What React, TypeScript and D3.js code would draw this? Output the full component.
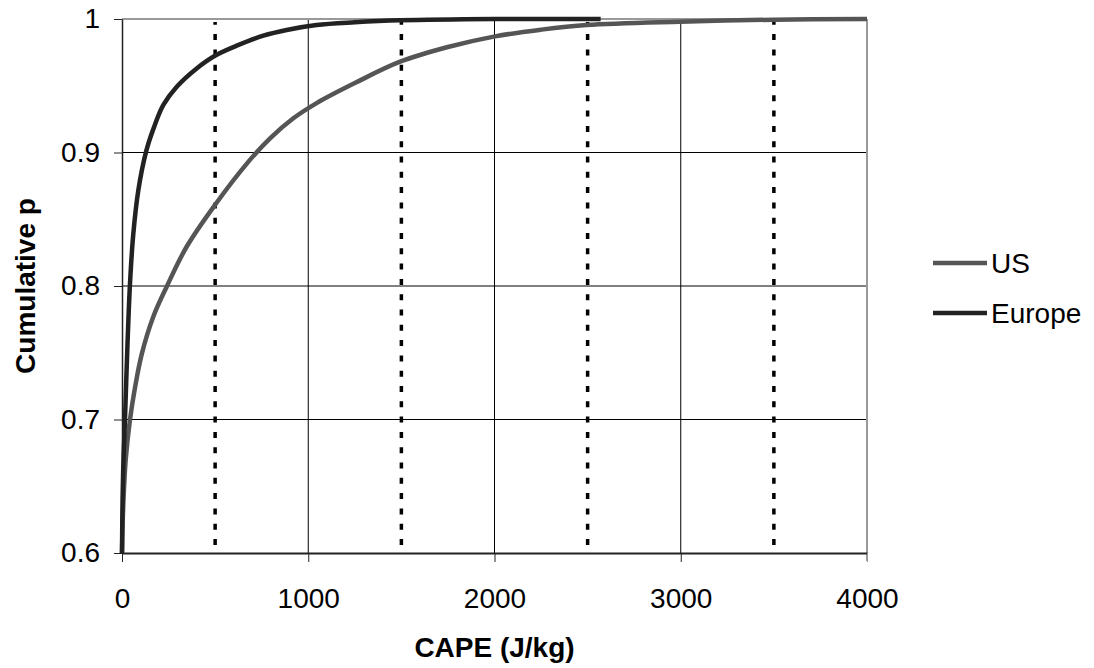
import { useEffect, useRef } from "react"
import * as d3 from "d3"

// CAPE values (J/kg) and cumulative probabilities
const usCape = [0, 3, 8, 20, 43, 70, 106, 168, 240, 347, 499, 678, 795, 920, 1045, 1250, 1493, 1750, 2003, 2250, 2495, 2996, 3500, 4000]
const usProb = [0.6, 0.62, 0.64, 0.67, 0.7, 0.724, 0.749, 0.777, 0.7995, 0.8294, 0.8607, 0.893, 0.9106, 0.9256, 0.937, 0.952, 0.968, 0.979, 0.987, 0.992, 0.9955, 0.998, 0.9995, 1]

const euCape = [0, 3, 8, 16, 29, 43, 61, 88, 130, 168, 222, 294, 401, 499, 616, 759, 884, 1045, 1250, 1493, 2000, 2570]
const euProb = [0.6, 0.64, 0.67, 0.7, 0.7545, 0.802, 0.8395, 0.872, 0.901, 0.9175, 0.9356, 0.9493, 0.963, 0.9725, 0.98, 0.9875, 0.9918, 0.9955, 0.9975, 0.999, 1, 1]

const xTicks = [0, 1000, 2000, 3000, 4000]
const yTicks = [0.6, 0.7, 0.8, 0.9, 1]
const dottedAt = [500, 1500, 2500, 3500]

const seriesNames = ["US", "Europe"]
const seriesColors = ["#555555", "#222222"]

const CapeChart = () => {
  const svgRef = useRef<SVGSVGElement>(null)

  useEffect(() => {
    if (!svgRef.current) return
    const svg = d3.select(svgRef.current)
    svg.selectAll("*").remove()

    const margin = { top: 19, left: 122, right: 227, bottom: 115 }
    const width = 1094
    const height = 668
    const innerWidth = width - margin.left - margin.right
    const innerHeight = height - margin.top - margin.bottom
    const font = "'Liberation Sans', Arial, sans-serif"

    const x = d3.scaleLinear().domain([0, 4000]).range([0, innerWidth])
    const y = d3.scaleLinear().domain([0.6, 1]).range([innerHeight, 0])

    const g = svg.append("g").attr("transform", `translate(${margin.left},${margin.top})`)

    // horizontal gridlines
    g.selectAll(".hgrid")
      .data(yTicks.filter((t) => t > 0.6 && t < 1))
      .enter()
      .append("line")
      .attr("x1", 0)
      .attr("x2", x(4000))
      .attr("y1", (d) => y(d))
      .attr("y2", (d) => y(d))
      .attr("stroke", "#000")
      .attr("stroke-width", 1)

    // vertical gridlines
    g.selectAll(".vgrid")
      .data(xTicks.filter((t) => t > 0 && t < 4000))
      .enter()
      .append("line")
      .attr("x1", (d) => x(d))
      .attr("x2", (d) => x(d))
      .attr("y1", 0)
      .attr("y2", innerHeight)
      .attr("stroke", "#000")
      .attr("stroke-width", 1)

    // top and right border (grey)
    g.append("line").attr("x1", 0).attr("x2", x(4000)).attr("y1", y(1)).attr("y2", y(1))
      .attr("stroke", "#999").attr("stroke-width", 2)
    g.append("line").attr("x1", x(4000)).attr("x2", x(4000)).attr("y1", 0).attr("y2", innerHeight + 8)
      .attr("stroke", "#999").attr("stroke-width", 2)

    // dotted lines
    g.selectAll(".dotted")
      .data(dottedAt)
      .enter()
      .append("line")
      .attr("x1", (d) => x(d))
      .attr("x2", (d) => x(d))
      .attr("y1", y(0.6) - 8)
      .attr("y2", y(1) + 3)
      .attr("stroke", "#000")
      .attr("stroke-width", 3.5)
      .attr("stroke-dasharray", "6,9.3")

    // axes
    const xAxis = g.append("g")
      .attr("transform", `translate(0,${innerHeight})`)
      .call(d3.axisBottom(x).tickValues(xTicks).tickSize(9).tickSizeOuter(0).tickFormat(d3.format("d")))
    xAxis.select(".domain").attr("stroke", "#222").attr("stroke-width", 2)
    xAxis.selectAll(".tick line").attr("stroke", (d) => ((d as number) === 4000 ? "#999" : "#222"))
    xAxis.selectAll("text").attr("font-size", "28px").attr("font-family", font).attr("fill", "#000").attr("dy", "1.55em")

    const yAxis = g.append("g")
      .call(d3.axisLeft(y).tickValues(yTicks).tickSize(8).tickSizeOuter(0).tickFormat((d) => (d === 1 ? "1" : d3.format(".1f")(d as number))))
    yAxis.select(".domain").attr("stroke", "#222").attr("stroke-width", 1.5)
    yAxis.selectAll(".tick line").attr("stroke", "#222")
    yAxis.selectAll("text").attr("font-size", "28px").attr("font-family", font).attr("fill", "#000").attr("x", -22)

    // axis titles
    g.append("text")
      .attr("x", innerWidth / 2)
      .attr("y", innerHeight + 104)
      .attr("text-anchor", "middle")
      .attr("font-size", "28px")
      .attr("font-weight", "bold")
      .attr("font-family", font)
      .text("CAPE (J/kg)")

    g.append("text")
      .attr("transform", "rotate(-90)")
      .attr("x", -innerHeight / 2)
      .attr("y", -87)
      .attr("text-anchor", "middle")
      .attr("font-size", "28px")
      .attr("font-weight", "bold")
      .attr("font-family", font)
      .text("Cumulative p")

    // curves
    const line = d3
      .line<[number, number]>()
      .x((d) => x(d[0]))
      .y((d) => y(d[1]))
      .curve(d3.curveCatmullRom.alpha(0.5))

    const series = [
      d3.zip(usCape, usProb) as [number, number][],
      d3.zip(euCape, euProb) as [number, number][],
    ]

    series.forEach((pts, i) => {
      g.append("path")
        .datum(pts)
        .attr("fill", "none")
        .attr("stroke", seriesColors[i])
        .attr("stroke-width", 4.5)
        .attr("d", line)
    })

    // legend
    const legend = svg.append("g").attr("transform", "translate(933,263)")
    seriesNames.forEach((name, i) => {
      legend.append("line")
        .attr("x1", 0)
        .attr("x2", 54)
        .attr("y1", i * 50)
        .attr("y2", i * 50)
        .attr("stroke", seriesColors[i])
        .attr("stroke-width", 4.5)
      legend.append("text")
        .attr("x", 58)
        .attr("y", i * 50)
        .attr("dy", "0.36em")
        .attr("font-size", "28px")
        .attr("font-family", font)
        .text(name)
    })
  }, [])

  return (
    <div style={{ position: "absolute", left: 0, top: 0, background: "#fff" }}>
      <svg ref={svgRef} width={1094} height={668}></svg>
    </div>
  )
}

export default CapeChart
